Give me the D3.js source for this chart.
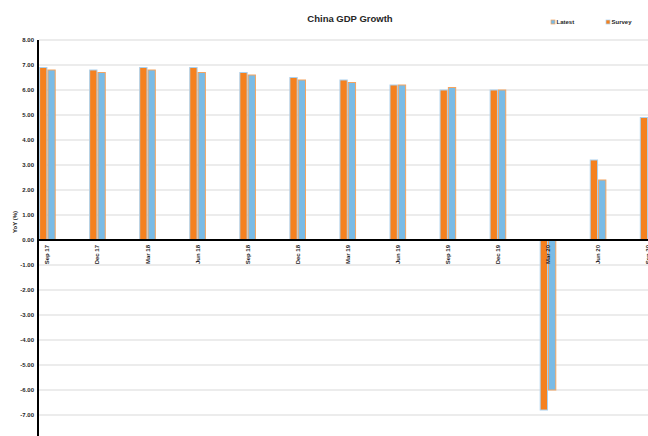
<!DOCTYPE html>
<html>
<head>
<meta charset="utf-8">
<script src="https://cdn.jsdelivr.net/npm/d3@7"></script>
<style>
  body { margin: 0; background: #fff; overflow: hidden; }
  svg { display: block; font-family: "Liberation Sans", Arial, sans-serif; }
</style>
</head>
<body>
<div id="chart"></div>
<script>
// quarters and the two series
var quarters = ["Sep 17","Dec 17","Mar 18","Jun 18","Sep 18","Dec 18","Mar 19","Jun 19","Sep 19","Dec 19","Mar 20","Jun 20","Sep 20"];
var survey = [6.9, 6.8, 6.9, 6.9, 6.7, 6.5, 6.4, 6.2, 6.0, 6.0, -6.8, 3.2, 4.9];
var latest = [6.8, 6.7, 6.8, 6.7, 6.6, 6.4, 6.3, 6.2, 6.1, 6.0, -6.0, 2.4, 5.5];
var yTicks = [-7,-6,-5,-4,-3,-2,-1,0,1,2,3,4,5,6,7,8];

var width = 648, height = 436;
var orange = "#f5811f", blue = "#79bbe6";

var svg = d3.select("#chart").append("svg")
    .attr("width", width)
    .attr("height", height);

var axisX = 38;
var yscale = d3.scaleLinear().domain([-8, 8]).range([440, 40]);

// category bands: 50px step, first centre just right of the axis
var step = 50.06;
var x0 = 47.4 - step / 2;
var xscale = d3.scaleBand()
    .domain(quarters)
    .range([x0, x0 + step * quarters.length])
    .padding(0);
var barW = 8.3;
var sub = d3.scaleBand().domain(["survey","latest"]).range([-barW, barW]);

// gridlines
svg.append("g").selectAll("line")
    .data(yTicks.filter(function(d){ return d !== 0; }))
    .enter().append("line")
    .attr("x1", axisX + 1).attr("x2", width)
    .attr("y1", function(d){ return yscale(d); })
    .attr("y2", function(d){ return yscale(d); })
    .attr("stroke", "#d9d9d9")
    .attr("stroke-width", 1);

// y tick labels
var yaxis = d3.axisLeft(yscale)
    .tickValues(yTicks)
    .tickSize(0)
    .tickPadding(4)
    .tickFormat(function(d){ return d.toFixed(2); });
var gy = svg.append("g")
    .attr("transform", "translate(" + axisX + ",0)")
    .call(yaxis);
gy.select(".domain").remove();
gy.selectAll("text")
    .attr("font-size", 6)
    .attr("font-weight", "bold")
    .attr("fill", "#262626")
    .attr("font-family", "Liberation Sans, Arial, sans-serif");

// bars
var rows = quarters.map(function(q, i){
    return { q: q, vals: [{k:"survey", v: survey[i]}, {k:"latest", v: latest[i]}] };
});
var groups = svg.append("g").selectAll("g")
    .data(rows)
    .enter().append("g")
    .attr("transform", function(d){ return "translate(" + (xscale(d.q) + xscale.bandwidth() / 2) + ",0)"; });
groups.selectAll("rect")
    .data(function(d){ return d.vals; })
    .enter().append("rect")
    .attr("x", function(d){ return sub(d.k) + 0.5; })
    .attr("width", sub.bandwidth() - 1)
    .attr("y", function(d){ return yscale(Math.max(0, d.v)); })
    .attr("height", function(d){ return Math.abs(yscale(d.v) - yscale(0)); })
    .attr("fill", function(d){ return d.k === "survey" ? orange : blue; })
    .attr("stroke", function(d){ return d.k === "survey" ? "#a9d0ee" : "#f4a460"; })
    .attr("stroke-width", 1);

// zero line and y axis line
svg.append("line")
    .attr("x1", axisX).attr("x2", width)
    .attr("y1", yscale(0)).attr("y2", yscale(0))
    .attr("stroke", "#000").attr("stroke-width", 2);
svg.append("line")
    .attr("x1", axisX).attr("x2", axisX)
    .attr("y1", yscale(8)).attr("y2", yscale(-8))
    .attr("stroke", "#000").attr("stroke-width", 2);

// category labels, rotated, just under the zero line
svg.append("g").selectAll("text")
    .data(quarters)
    .enter().append("text")
    .attr("transform", function(d){
        return "translate(" + (xscale(d) + xscale.bandwidth() / 2 + 2) + "," + (yscale(0) + 5) + ") rotate(-90)";
    })
    .attr("text-anchor", "end")
    .attr("font-size", 6)
    .attr("font-weight", "bold")
    .attr("fill", "#262626")
    .text(function(d){ return d; });

// y title
svg.append("text")
    .attr("transform", "translate(17,222) rotate(-90)")
    .attr("text-anchor", "middle")
    .attr("font-size", 6)
    .attr("font-weight", "bold")
    .attr("fill", "#262626")
    .text("YoY (%)");

// title
svg.append("text")
    .attr("x", 350).attr("y", 22)
    .attr("text-anchor", "middle")
    .attr("font-size", 9.5)
    .attr("font-weight", "bold")
    .attr("fill", "#262626")
    .text("China GDP Growth");

// legend
var legend = [{label:"Latest", fill: blue, stroke: "#f4a460", x: 551},
              {label:"Survey", fill: orange, stroke: "#a9d0ee", x: 606}];
var lg = svg.append("g").selectAll("g")
    .data(legend)
    .enter().append("g")
    .attr("transform", function(d){ return "translate(" + d.x + ",20)"; });
lg.append("rect")
    .attr("x", 0).attr("y", 0)
    .attr("width", 4).attr("height", 4)
    .attr("fill", function(d){ return d.fill; })
    .attr("stroke", function(d){ return d.stroke; })
    .attr("stroke-width", 0.7);
lg.append("text")
    .attr("x", 5.5).attr("y", 4.3)
    .attr("font-size", 6)
    .attr("font-weight", "bold")
    .attr("fill", "#262626")
    .text(function(d){ return d.label; });
</script>
</body>
</html>
